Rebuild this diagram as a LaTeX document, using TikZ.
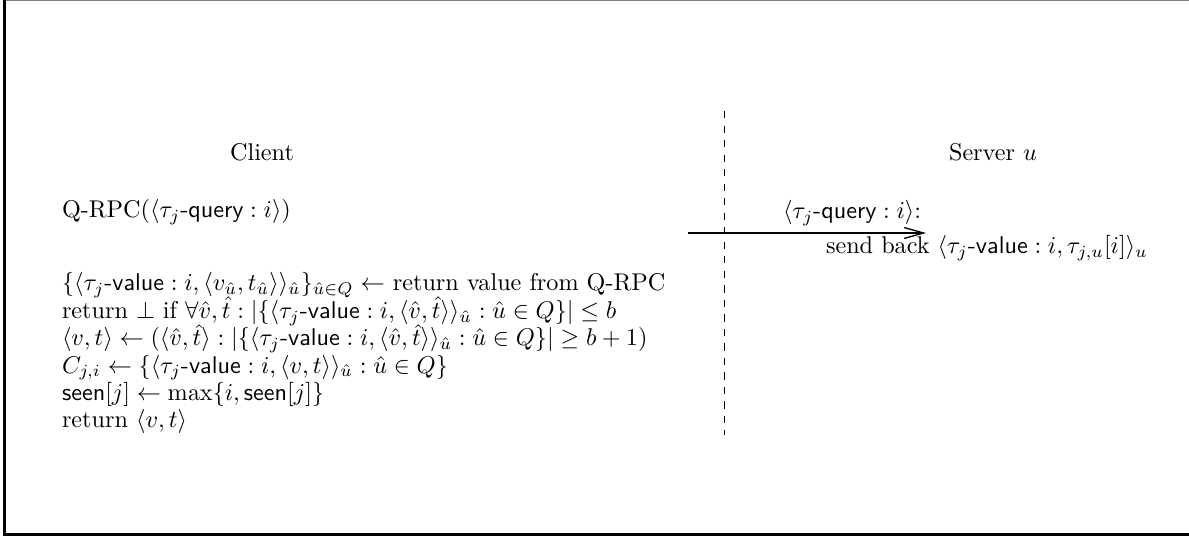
\documentclass[tikz,border=0pt]{standalone}
\usepackage{amsmath,amssymb}
\usetikzlibrary{arrows.meta}
\begin{document}
\begin{tikzpicture}[x=0.4132pt,y=-0.4132pt,
  txt/.style={inner sep=0pt,outer sep=0pt,anchor=base west},
  ctr/.style={inner sep=0pt,outer sep=0pt,anchor=base},
  msg/.style={-{Straight Barb[length=8pt,width=4.5pt]},line width=0.55pt},
  sep/.style={dashed,line width=0.4pt}]
\useasboundingbox (0,0) rectangle (1189,536);
% frame
\draw[gray,line width=0.5pt] (4.5,0.5) -- (1189,0.5);
\draw[line width=0.9pt] (4.5,0.5) -- (4.5,534.5) -- (1189,534.5);
% headings
\node[ctr] (client) at (262,161) {Client};
\node[ctr] (server) at (993,161) {Server $u$};
% separator
\coordinate (s1) at (724,111);
\coordinate (s2) at (724,435);
\draw[sep] (s1) -- (s2);
% client side
\node[txt] (qrpc) at (62,218) {Q-RPC($\langle\tau_j\textsf{-query} : i\rangle$)};
\node[txt] (l1) at (62,291) {$\{\langle\tau_j\textsf{-value} : i, \langle v_{\hat u}, t_{\hat u}\rangle\rangle_{\hat u}\}_{\hat u\in Q} \leftarrow$ return value from Q-RPC};
\node[txt] (l2) at (62,318.4) {return $\bot$ if $\forall\hat v,\hat t : |\{\langle\tau_j\textsf{-value} : i, \langle\hat v,\hat t\rangle\rangle_{\hat u} : \hat u\in Q\}| \le b$};
\node[txt] (l3) at (62,345.8) {$\langle v,t\rangle \leftarrow (\langle\hat v,\hat t\rangle : |\{\langle\tau_j\textsf{-value} : i, \langle\hat v,\hat t\rangle\rangle_{\hat u} : \hat u\in Q\}| \ge b+1)$};
\node[txt] (l4) at (62,373.2) {$C_{j,i} \leftarrow \{\langle\tau_j\textsf{-value} : i, \langle v,t\rangle\rangle_{\hat u} : \hat u\in Q\}$};
\node[txt] (l5) at (62,400.6) {$\textsf{seen}[j] \leftarrow \max\{i, \textsf{seen}[j]\}$};
\node[txt] (l6) at (62,428) {return $\langle v,t\rangle$};
% message
\coordinate (a1) at (688,233);
\coordinate (a2) at (926,233);
\draw[msg] (a1) -- (a2);
\node[txt] (q) at (783,219) {$\langle\tau_j\textsf{-query} : i\rangle$:};
\node[txt] (sb) at (826,254) {send back $\langle\tau_j\textsf{-value} : i, \tau_{j,u}[i]\rangle_u$};
\end{tikzpicture}
\end{document}
